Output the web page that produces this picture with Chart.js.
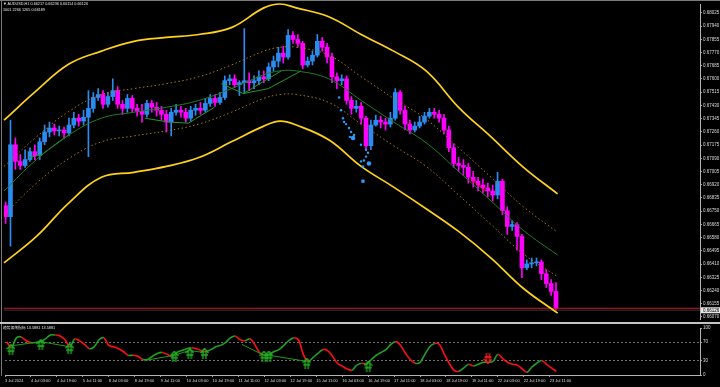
<!DOCTYPE html>
<html>
<head>
<meta charset="utf-8">
<script src="https://cdn.jsdelivr.net/npm/chart.js@4.4.1/dist/chart.umd.min.js"></script>
<style>
    html, body { margin: 0; padding: 0; background: #000; }
    #wrap { position: relative; width: 720px; height: 387px; overflow: hidden; background: #000; }
    canvas { position: absolute; left: 0; }
    #main { top: 0; }
    #osc { top: 323px; }
    .txt { position: absolute; color: #e8e8e8; font-family: "Liberation Sans", "Noto Sans CJK SC", sans-serif;
           font-size: 9px; white-space: nowrap; transform-origin: 0 0; transform: scale(0.42); }
    .frame { position: absolute; background: #7a7a7a; }
</style>
</head>
<body>
<div id="wrap">
    <canvas id="main" width="720" height="323"></canvas>
    <canvas id="osc" width="720" height="64"></canvas>
    <div class="frame" style="left:0;top:0;width:720px;height:1px;"></div>
    <div class="frame" style="left:1px;top:0;width:1px;height:376px;"></div>
    <div class="frame" style="left:0;top:322px;width:720px;height:2px;background:#c4c4c4;"></div>
    <div class="txt" id="hdr1" style="left:3px;top:2px;"></div>
    <div class="txt" id="hdr2" style="left:3px;top:8px;"></div>
    <div class="txt" id="oscTitle" style="left:3px;top:325px;"></div>
</div>
<script>
// ---- data (H1 AUDUSD, grouped by 3 bars) ----
const symbolName = "AUDUSD,H1";
const lastBar = [0.66217, 0.66236, 0.66114, 0.66126]; // O H L C
const infoLine = ["1001", "2266", "1265", "0.66189"];
const oscName = "趋势振荡指标";
const oscReadout = ["13.5881", "13.5881"];

const firstOpen = 0.66785;
const closes = [
    0.66715, 0.67177, 0.67070, 0.67044, 0.67082, 0.67133, 0.67107, 0.67196, 0.67259, 0.67285,
    0.67266, 0.67272, 0.67253, 0.67304, 0.67348, 0.67329, 0.67354, 0.67411, 0.67481, 0.67500,
    0.67437, 0.67487, 0.67525, 0.67437, 0.67411, 0.67475, 0.67411, 0.67392, 0.67373, 0.67443,
    0.67418, 0.67399, 0.67373, 0.67323, 0.67386, 0.67399, 0.67386, 0.67348, 0.67399, 0.67411,
    0.67399, 0.67443, 0.67475, 0.67449, 0.67481, 0.67589, 0.67601, 0.67563, 0.67576, 0.67589,
    0.67576, 0.67589, 0.67614, 0.67601, 0.67677, 0.67715, 0.67766, 0.67741, 0.67880, 0.67854,
    0.67829, 0.67690, 0.67715, 0.67753, 0.67842, 0.67804, 0.67741, 0.67614, 0.67589, 0.67601,
    0.67462, 0.67411, 0.67424, 0.67348, 0.67171, 0.67304, 0.67335, 0.67323, 0.67310, 0.67348,
    0.67513, 0.67399, 0.67310, 0.67272, 0.67297, 0.67323, 0.67361, 0.67386, 0.67373, 0.67348,
    0.67272, 0.67158, 0.67057, 0.67044, 0.67032, 0.66968, 0.66943, 0.66918, 0.66899, 0.66880,
    0.66854, 0.66943, 0.66753, 0.66652, 0.66664, 0.66588, 0.66386, 0.66411, 0.66418, 0.66424,
    0.66348, 0.66285, 0.66234, 0.66126
];
const highs = [
    0.66810, 0.67335, 0.67221, 0.67114, 0.67145, 0.67158, 0.67177, 0.67221, 0.67304, 0.67323,
    0.67310, 0.67297, 0.67291, 0.67348, 0.67386, 0.67373, 0.67399, 0.67525, 0.67513, 0.67538,
    0.67525, 0.67513, 0.67601, 0.67551, 0.67462, 0.67500, 0.67494, 0.67437, 0.67437, 0.67462,
    0.67462, 0.67449, 0.67424, 0.67399, 0.67411, 0.67437, 0.67424, 0.67411, 0.67424, 0.67437,
    0.67449, 0.67475, 0.67500, 0.67500, 0.67513, 0.67620, 0.67627, 0.67627, 0.67589, 0.67924,
    0.67639, 0.67620, 0.67652, 0.67652, 0.67703, 0.67747, 0.67804, 0.67810, 0.67918, 0.67905,
    0.67886, 0.67842, 0.67741, 0.67779, 0.67886, 0.67867, 0.67829, 0.67766, 0.67639, 0.67627,
    0.67620, 0.67487, 0.67462, 0.67449, 0.67361, 0.67335, 0.67367, 0.67361, 0.67348, 0.67386,
    0.67538, 0.67525, 0.67424, 0.67335, 0.67323, 0.67361, 0.67386, 0.67411, 0.67411, 0.67399,
    0.67373, 0.67297, 0.67184, 0.67095, 0.67082, 0.67057, 0.67006, 0.66968, 0.66956, 0.66930,
    0.66918, 0.67000, 0.66956, 0.66778, 0.66690, 0.66677, 0.66601, 0.66437, 0.66449, 0.66449,
    0.66437, 0.66373, 0.66310, 0.66291
];
const lows = [
    0.66671, 0.66525, 0.67019, 0.67019, 0.67032, 0.67070, 0.67082, 0.67082, 0.67177, 0.67228,
    0.67240, 0.67234, 0.67221, 0.67234, 0.67285, 0.67297, 0.67304, 0.67101, 0.67386, 0.67462,
    0.67411, 0.67418, 0.67462, 0.67411, 0.67373, 0.67386, 0.67386, 0.67361, 0.67323, 0.67354,
    0.67386, 0.67361, 0.67335, 0.67259, 0.67234, 0.67367, 0.67354, 0.67323, 0.67329, 0.67367,
    0.67373, 0.67386, 0.67424, 0.67424, 0.67437, 0.67468, 0.67563, 0.67544, 0.67494, 0.67513,
    0.67525, 0.67538, 0.67563, 0.67576, 0.67589, 0.67652, 0.67677, 0.67703, 0.67728, 0.67829,
    0.67804, 0.67665, 0.67677, 0.67690, 0.67741, 0.67779, 0.67703, 0.67576, 0.67538, 0.67563,
    0.67437, 0.67373, 0.67386, 0.67310, 0.67145, 0.67145, 0.67297, 0.67285, 0.67272, 0.67291,
    0.67335, 0.67373, 0.67272, 0.67247, 0.67259, 0.67285, 0.67310, 0.67348, 0.67348, 0.67323,
    0.67247, 0.67133, 0.67032, 0.67006, 0.66981, 0.66930, 0.66905, 0.66880, 0.66867, 0.66842,
    0.66816, 0.66829, 0.66728, 0.66601, 0.66626, 0.66500, 0.66323, 0.66373, 0.66386, 0.66399,
    0.66310, 0.66259, 0.66209, 0.66114
];

// channel bands, sampled at these bar numbers
const bandBars = [0, 20, 40, 60, 80, 100, 120, 140, 160, 170, 180, 200, 220, 240, 260, 280, 300, 320, 341];
const upperOuter = [0.67335, 0.67525, 0.67696, 0.67779, 0.67842, 0.67867, 0.67886, 0.67930, 0.68057, 0.68082,
                    0.68057, 0.68000, 0.67886, 0.67779, 0.67652, 0.67418, 0.67228, 0.67032, 0.66861];
const lowerOuter = [0.66418, 0.66588, 0.66804, 0.66968, 0.67000, 0.67038, 0.67095, 0.67196, 0.67297, 0.67329,
                    0.67304, 0.67209, 0.67038, 0.66905, 0.66766, 0.66620, 0.66449, 0.66253, 0.66095];
const midLine    = [0.66880, 0.67082, 0.67240, 0.67348, 0.67386, 0.67418, 0.67462, 0.67538, 0.67627, 0.67652,
                    0.67652, 0.67601, 0.67462, 0.67323, 0.67190, 0.67006, 0.66816, 0.66626, 0.66468];
const upperInner = [0.67038, 0.67228, 0.67392, 0.67500, 0.67538, 0.67570, 0.67614, 0.67690, 0.67779, 0.67804,
                    0.67804, 0.67753, 0.67614, 0.67475, 0.67342, 0.67158, 0.66968, 0.66778, 0.66614];
const lowerInner = [0.66728, 0.66930, 0.67089, 0.67196, 0.67234, 0.67266, 0.67310, 0.67386, 0.67475, 0.67500,
                    0.67500, 0.67449, 0.67310, 0.67171, 0.67038, 0.66854, 0.66664, 0.66475, 0.66329];

// zigzag trend lines [bar, price]
const trendLines = [
    [[15.4, 0.67095], [23.3, 0.67114], [39.9, 0.67240]],
    [[86.6, 0.67348], [101.4, 0.67323], [113.6, 0.67316], [129.6, 0.67418]],
    [[133.9, 0.67570], [147.4, 0.67506], [162.8, 0.67538], [183.0, 0.67652]],
    [[147.4, 0.67506], [170.8, 0.67652]]
];
const redTrend = [[287.5, 0.66956], [296.7, 0.66880]];

// blue signal dots
const dotBars   = [206.4, 207.6, 208.8, 209.5, 210.7, 212.5, 213.8, 213.1, 215.0, 215.6,
                   219.9, 223.0, 224.2, 223.0, 219.9, 221.7, 224.8, 221.1, 221.1];
const dotPrices = [0.67481, 0.67399, 0.67348, 0.67323, 0.67310, 0.67285, 0.67259, 0.67228, 0.67221, 0.67240,
                   0.67177, 0.67145, 0.67126, 0.67101, 0.67070, 0.67076, 0.67057, 0.67038, 0.66943];

const priceTicks = [0.66070, 0.66155, 0.66240, 0.66325, 0.66410, 0.66495, 0.66580, 0.66665, 0.66750, 0.66835,
                    0.66920, 0.67005, 0.67090, 0.67175, 0.67260, 0.67345, 0.67430, 0.67515, 0.67600, 0.67685,
                    0.67770, 0.67855, 0.67940, 0.68025];

// oscillator (one value per 3-bar group)
const oscValues = [
    71, 58, 79, 81, 73, 69, 69, 71, 77, 85,  85, 83, 75, 60, 77, 73, 65, 56, 60, 75,
    79, 63, 60, 56, 50, 42, 42, 40, 33, 33,  40, 46, 48, 44, 40, 48, 52, 56, 58, 56,
    52, 50, 54, 60, 63, 69, 79, 83, 75, 73,  77, 65, 48, 42, 44, 50, 54, 63, 73, 79,
    75, 44, 29, 37, 46, 54, 52, 40, 25, 19,  13, 10, 21, 25, 23, 33, 42, 48, 54, 65,
    71, 63, 46, 33, 25, 27, 44, 60, 67, 65,  44, 25, 10, 8, 15, 23, 19, 23, 27, 27,
    29, 44, 35, 27, 23, 21, 13, 6, 17, 25,   31, 23, 15, 8
];
const oscLevels = [0, 30, 70, 100];
const upArrowBars = [3.7, 22.1, 39.9, 104.4, 114.0, 123.0, 159.7, 162.8, 186.1, 224.0];
const upArrowVals = [54, 65, 56, 40, 46, 46, 40, 40, 25, 19];
const downArrowBars = [297.9];
const downArrowVals = [35];
const oscTrends = [
    [[3.7, 62], [22.1, 71], [39.9, 60]],
    [[86.6, 31], [104.4, 42], [113.6, 52], [122.9, 48]],
    [[146.2, 65], [159.7, 42], [162.8, 42], [186.1, 29]]
];

const timeLabels = ["3 Jul 2024", "4 Jul 03:00", "4 Jul 19:00", "5 Jul 11:00", "8 Jul 03:00", "8 Jul 19:00",
    "9 Jul 11:00", "10 Jul 03:00", "10 Jul 19:00", "11 Jul 11:00", "12 Jul 03:00", "12 Jul 19:00",
    "15 Jul 11:00", "16 Jul 03:00", "16 Jul 19:00", "17 Jul 11:00", "18 Jul 03:00", "18 Jul 19:00",
    "19 Jul 11:00", "22 Jul 03:00", "22 Jul 19:00", "23 Jul 11:00"];

// ---- layout / style ----
const BARS_PER_CANDLE = 3;
const BARS_PER_LABEL = 16;
const X_MAX = 428.7;
const Y_MIN = 0.66057, Y_MAX = 0.68082;
const UP = "#2a8cf0", DOWN = "#ff00ff";
const AXIS_FONT = { size: 4.5, family: '"Liberation Sans Narrow", "Liberation Sans", sans-serif' };

document.addEventListener("DOMContentLoaded", function () {
    // header texts
    document.getElementById("hdr1").textContent = "\u25BC " + symbolName + " " + lastBar.map(v => v.toFixed(5)).join(" ");
    document.getElementById("hdr2").textContent = infoLine.join(" ");
    document.getElementById("oscTitle").textContent = oscName + " " + oscReadout.join(" ");

    const candleX = i => i * BARS_PER_CANDLE + 1;
    const opens = closes.map((c, i) => i === 0 ? firstOpen : closes[i - 1]);
    const candleColors = closes.map((c, i) => c >= opens[i] ? UP : DOWN);

    const bodies = closes.map((c, i) => ({ x: candleX(i), y: [opens[i], c] }));
    const wicks = closes.map((c, i) => ({ x: candleX(i), y: [lows[i], highs[i]] }));
    const band = arr => arr.map((v, i) => ({ x: bandBars[i], y: v }));
    const pts = arr => arr.map(p => ({ x: p[0], y: p[1] }));

    function lineSet(data, color, width, extra) {
        return Object.assign({
            type: "line", data: data, borderColor: color, borderWidth: width,
            pointRadius: 0, tension: 0.4, fill: false, order: 2
        }, extra || {});
    }

    const mainSets = [
        { type: "bar", data: wicks, backgroundColor: candleColors, barThickness: 1, grouped: false,
          minBarLength: 1, order: 6 },
        { type: "bar", data: bodies, backgroundColor: candleColors, barThickness: 4, grouped: false,
          minBarLength: 1, order: 5 },
        lineSet(band(upperOuter), "#ffd21a", 1.7, { clip: 4 }),
        lineSet(band(lowerOuter), "#ffd21a", 1.7, { clip: 4 }),
        lineSet(band(upperInner), "#a8781a", 1, { borderDash: [1.5, 2.5] }),
        lineSet(band(lowerInner), "#a8781a", 1, { borderDash: [1.5, 2.5] }),
        lineSet(band(midLine), "#1f7f26", 1)
    ];
    trendLines.forEach(t => mainSets.push(lineSet(pts(t), "#229a2a", 1, { tension: 0 })));
    mainSets.push(lineSet(pts(redTrend), "#ff2020", 1, { tension: 0 }));
    // current price + bar low lines
    mainSets.push(lineSet([{ x: 0, y: lastBar[3] }, { x: X_MAX, y: lastBar[3] }], "#d01818", 1, { tension: 0, order: 4 }));
    mainSets.push(lineSet([{ x: 0, y: lastBar[2] }, { x: X_MAX, y: lastBar[2] }], "#3a3a3a", 1, { tension: 0, order: 4 }));
    // signal dots
    const bigDots = [8, 16, 18];
    mainSets.push({
        type: "scatter", data: dotBars.map((b, i) => ({ x: b, y: dotPrices[i] })),
        backgroundColor: "#2a9cff", borderWidth: 0, order: 0,
        pointRadius: dotBars.map((b, i) => bigDots.includes(i) ? 2.3 : 1.2),
        pointStyle: dotBars.map((b, i) => i === dotBars.length - 1 ? "rect" : "circle")
    });

    // price tag on the right axis
    const priceTag = {
        id: "priceTag",
        afterDraw(chart) {
            const { ctx, chartArea, scales } = chart;
            const y = scales.y.getPixelForValue(lastBar[3]);
            ctx.save();
            ctx.fillStyle = "#e6e6e6";
            ctx.fillRect(chartArea.right + 1, y - 1, 19, 6);
            ctx.fillStyle = "#000";
            ctx.font = AXIS_FONT.size + "px " + AXIS_FONT.family;
            ctx.textBaseline = "middle";
            ctx.fillText(lastBar[3].toFixed(5), chartArea.right + 3, y + 2);
            ctx.restore();
        }
    };

    new Chart(document.getElementById("main"), {
        type: "line",
        data: { datasets: mainSets },
        options: {
            responsive: false, animation: false, devicePixelRatio: 1,
            layout: { padding: { left: 2, top: 2, bottom: 1, right: 0 } },
            plugins: { legend: { display: false }, tooltip: { enabled: false } },
            scales: {
                x: { type: "linear", min: 0, max: X_MAX, display: false, offset: false },
                y: {
                    position: "right", min: Y_MIN, max: Y_MAX,
                    afterFit: s => { s.width = 20; },
                    afterBuildTicks: s => { s.ticks = priceTicks.map(v => ({ value: v })); },
                    ticks: { color: "#dcdcdc", font: AXIS_FONT, padding: 1, autoSkip: false,
                             callback: v => Number(v).toFixed(5) },
                    grid: { drawOnChartArea: false, tickLength: 2, color: "#a0a0a0" },
                    border: { display: true, color: "#b4b4b4" }
                }
            }
        },
        plugins: [priceTag]
    });

    // arrow images for the oscillator signals
    function arrowImage(color, down) {
        const c = document.createElement("canvas");
        c.width = 9; c.height = 11;
        const g = c.getContext("2d");
        if (down) { g.translate(0, 11); g.scale(1, -1); }
        g.strokeStyle = color; g.lineWidth = 1.3;
        g.beginPath();
        g.moveTo(0.5, 5); g.lineTo(4.5, 0.5); g.lineTo(8.5, 5);
        g.moveTo(3, 3); g.lineTo(3, 11);
        g.moveTo(6, 3); g.lineTo(6, 11);
        g.moveTo(1, 7); g.lineTo(8, 7);
        g.stroke();
        return c;
    }

    const oscSets = [
        { type: "line", data: oscValues.map((v, i) => ({ x: candleX(i), y: v })),
          borderWidth: 1.6, pointRadius: 0, tension: 0.3, order: 2,
          borderColor: "#22a022",
          segment: { borderColor: c => c.p1.parsed.y < c.p0.parsed.y ? "#ff1010" : "#22a022" } },
        { type: "scatter", data: upArrowBars.map((b, i) => ({ x: b, y: upArrowVals[i] })),
          pointStyle: arrowImage("#22b022", false), order: 0 },
        { type: "scatter", data: downArrowBars.map((b, i) => ({ x: b, y: downArrowVals[i] })),
          pointStyle: arrowImage("#ff2020", true), order: 0 }
    ];
    oscTrends.forEach(t => oscSets.push({
        type: "line", data: pts(t), borderColor: "#1f9a1f", borderWidth: 1, pointRadius: 0, order: 1
    }));

    new Chart(document.getElementById("osc"), {
        type: "line",
        data: { datasets: oscSets },
        options: {
            responsive: false, animation: false, devicePixelRatio: 1,
            layout: { padding: { left: 2, top: 3, bottom: 0, right: 0 } },
            plugins: { legend: { display: false }, tooltip: { enabled: false } },
            scales: {
                x: {
                    type: "linear", min: 0, max: X_MAX, offset: false,
                    afterFit: s => { s.height = 12; },
                    afterBuildTicks: s => { s.ticks = timeLabels.map((t, i) => ({ value: i * BARS_PER_LABEL })); },
                    ticks: { align: "start", color: "#dcdcdc", font: { size: 4, family: AXIS_FONT.family },
                             padding: 1, maxRotation: 0, autoSkip: false, callback: (v, i) => timeLabels[i] },
                    grid: { drawOnChartArea: false, tickLength: 2, color: "#a0a0a0" },
                    border: { display: true, color: "#b4b4b4" }
                },
                y: {
                    position: "right", min: 0, max: 100,
                    afterFit: s => { s.width = 20; },
                    afterBuildTicks: s => { s.ticks = oscLevels.map(v => ({ value: v })); },
                    ticks: { color: "#dcdcdc", font: AXIS_FONT, padding: 1, autoSkip: false },
                    grid: {
                        tickLength: 2, tickColor: "#a0a0a0",
                        color: c => (c.tick && (c.tick.value === 30 || c.tick.value === 70)) ? "#6e6e6e" : "rgba(0,0,0,0)"
                    },
                    border: { display: true, color: "#b4b4b4", dash: [2, 2] }
                }
            }
        }
    });
});
</script>
</body>
</html>
